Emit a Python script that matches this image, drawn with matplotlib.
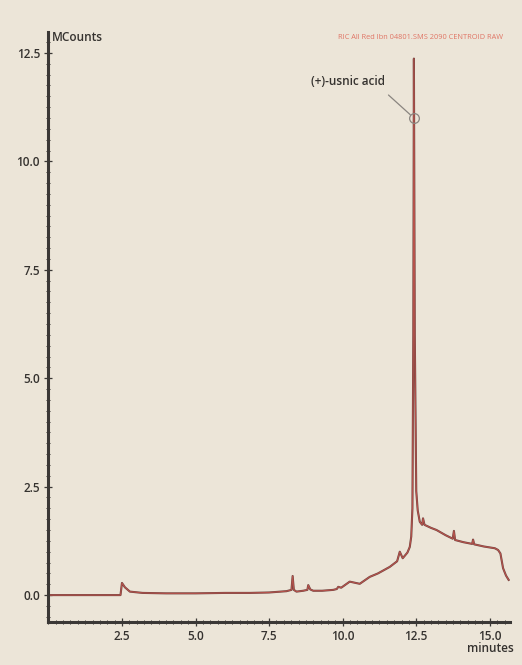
import matplotlib
matplotlib.use("Agg")
import matplotlib.pyplot as plt
from matplotlib.ticker import MultipleLocator, FormatStrFormatter

# chromatogram trace (minutes, MCounts)
times = [0.0, 2.45, 2.50, 2.60, 2.77, 3.2, 4.0, 5.0, 6.0, 6.85, 7.5, 8.09,
         8.26, 8.30, 8.34, 8.43, 8.66, 8.80, 8.83, 8.90, 9.0, 9.3, 9.68,
         9.80, 9.85, 9.95, 10.24, 10.58, 10.92, 11.2, 11.6, 11.85, 11.94,
         12.04, 12.20, 12.28, 12.33, 12.37, 12.40, 12.42, 12.45, 12.50,
         12.55, 12.62, 12.70, 12.73, 12.78, 13.0, 13.19, 13.5, 13.74, 13.78,
         13.82, 14.1, 14.40, 14.43, 14.47, 14.8, 15.17, 15.28, 15.36,
         15.45, 15.55, 15.64]
counts = [0.0, 0.0, 0.28, 0.18, 0.08, 0.05, 0.04, 0.04, 0.05, 0.05, 0.06,
          0.09, 0.12, 0.44, 0.12, 0.08, 0.10, 0.12, 0.23, 0.13, 0.10, 0.10,
          0.12, 0.14, 0.19, 0.17, 0.31, 0.26, 0.42, 0.50, 0.65, 0.78, 1.00,
          0.85, 0.98, 1.11, 1.35, 2.0, 6.0, 12.37, 6.0, 2.4, 1.95, 1.69,
          1.62, 1.77, 1.62, 1.55, 1.50, 1.38, 1.30, 1.48, 1.27, 1.22, 1.18,
          1.28, 1.17, 1.12, 1.08, 1.04, 0.96, 0.62, 0.45, 0.35]

peak_label = "(+)-usnic acid"
peak_time = 12.42
peak_marker = 11.0

x_ticks = [2.5, 5.0, 7.5, 10.0, 12.5, 15.0]
y_ticks = [0.0, 2.5, 5.0, 7.5, 10.0, 12.5]

BG = "#ece5d8"
AXIS = "#3b3836"
TEXT = "#35322f"
TRACE_DARK = "#6e4440"
TRACE_RED = "#c9564f"

plt.rcParams["font.family"] = ["Open Sans", "DejaVu Sans"]

fig = plt.figure(figsize=(5.22, 6.65), dpi=100, facecolor=BG)
ax = fig.add_axes([0.0927, 0.0647, 0.884, 0.887])
ax.set_facecolor(BG)

ax.plot(times, counts, color=TRACE_DARK, lw=1.5, solid_joinstyle="round")
ax.plot(times, counts, color=TRACE_RED, lw=0.8, alpha=0.8)

ax.set_xlim(0, 15.68)
ax.set_ylim(-0.62, 12.98)

for side in ("top", "right"):
    ax.spines[side].set_visible(False)
for side in ("left", "bottom"):
    ax.spines[side].set_color(AXIS)
    ax.spines[side].set_linewidth(2.2)

ax.set_xticks(x_ticks)
ax.set_yticks(y_ticks)
ax.xaxis.set_major_formatter(FormatStrFormatter("%.1f"))
ax.yaxis.set_major_formatter(FormatStrFormatter("%.1f"))
ax.xaxis.set_minor_locator(MultipleLocator(0.25))
ax.yaxis.set_minor_locator(MultipleLocator(0.25))
ax.tick_params(which="major", direction="inout", length=6, width=0.9,
               color=AXIS, labelsize=8.5, labelcolor=TEXT, pad=3)
ax.tick_params(which="minor", direction="inout", length=3.5, width=0.7,
               color=AXIS)
for lab in ax.get_xticklabels() + ax.get_yticklabels():
    lab.set_fontweight("semibold")

fig.text(0.100, 0.944, "MCounts", fontsize=8.5, fontweight="semibold",
         color=TEXT, ha="left", va="center")
fig.text(0.939, 0.025, "minutes", fontsize=8.5, fontweight="semibold",
         color=TEXT, ha="center", va="center")
fig.text(0.964, 0.944, "RIC All Red Ibn 04801.SMS 2090 CENTROID RAW",
         fontsize=5.3, color="#e07565", ha="right", va="center")

ax.plot([peak_time], [peak_marker], marker="o", ms=7, mfc="none",
        mec="#8a8580", mew=0.9, zorder=5)
ax.annotate(peak_label, xy=(peak_time, peak_marker), xytext=(10.18, 11.83),
            fontsize=8.5, fontweight="semibold", color=TEXT,
            ha="center", va="center",
            arrowprops=dict(arrowstyle="-", color="#8a8580", lw=0.9,
                            shrinkA=4, shrinkB=3.5,
                            relpos=(0.95, 0.0)))

fig.savefig("out.png", dpi=100, facecolor=BG)
